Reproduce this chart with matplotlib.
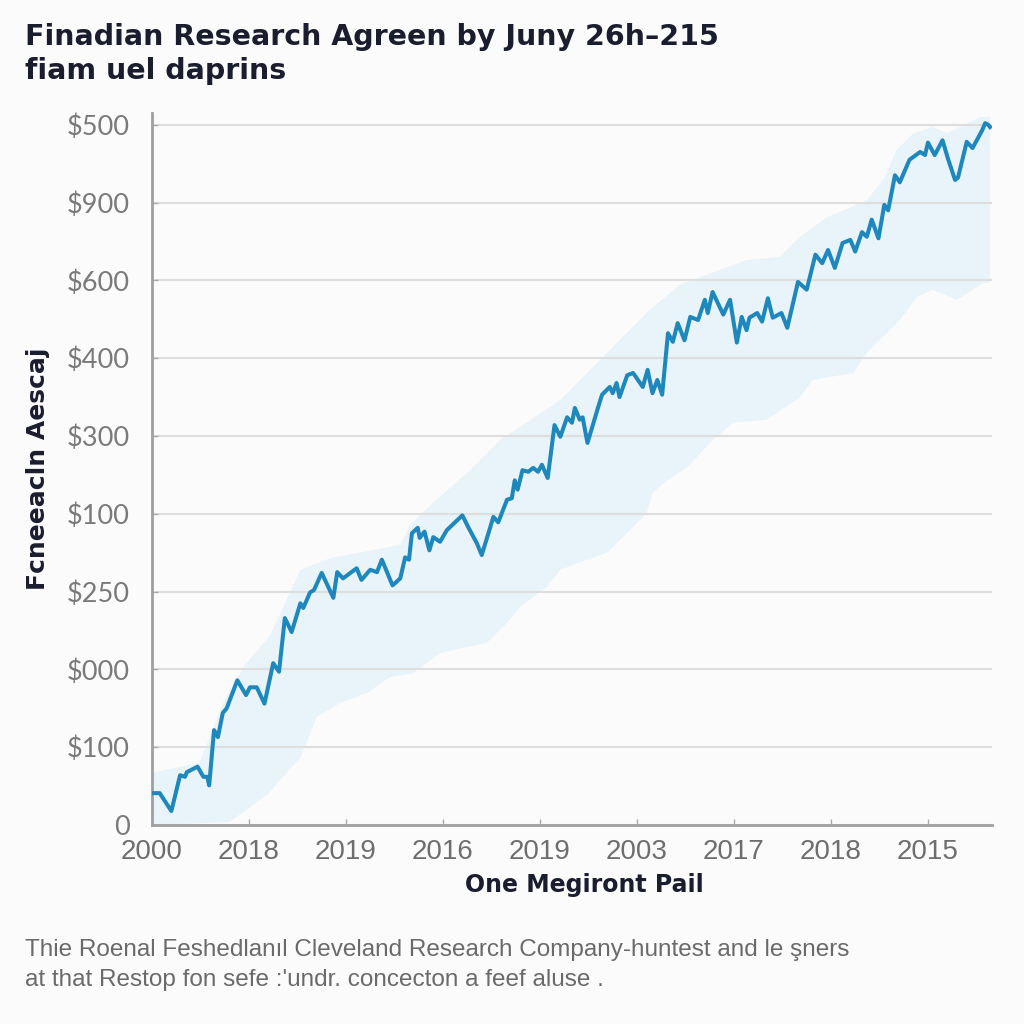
import numpy as np
import matplotlib
matplotlib.use('Agg')
import matplotlib.pyplot as plt

# values (x in tick units, y in gridline units)
line_x = [0.00, 0.08, 0.20, 0.29, 0.34, 0.36, 0.47, 0.53, 0.57, 0.59, 0.64, 0.68, 0.73, 0.77, 0.88,
          0.97, 1.01, 1.08, 1.16, 1.25, 1.31, 1.37, 1.44, 1.53, 1.56, 1.63, 1.67, 1.75, 1.87, 1.91,
          1.97, 2.11, 2.16, 2.25, 2.32, 2.37, 2.48, 2.56, 2.61, 2.65, 2.68, 2.74, 2.76, 2.81, 2.86,
          2.90, 2.97, 3.04, 3.20, 3.26, 3.35, 3.40, 3.52, 3.57, 3.66, 3.71, 3.74, 3.77, 3.82, 3.88,
          3.93, 3.98, 4.02, 4.08, 4.15, 4.21, 4.28, 4.33, 4.36, 4.41, 4.44, 4.49, 4.60, 4.64, 4.72,
          4.75, 4.79, 4.82, 4.90, 4.96, 5.06, 5.11, 5.16, 5.21, 5.26, 5.32, 5.37, 5.42, 5.49, 5.55,
          5.63, 5.70, 5.73, 5.78, 5.89, 5.96, 6.03, 6.08, 6.13, 6.16, 6.24, 6.29, 6.35, 6.40, 6.49,
          6.55, 6.66, 6.75, 6.84, 6.91, 6.97, 7.04, 7.12, 7.20, 7.25, 7.32, 7.37, 7.42, 7.49, 7.55,
          7.59, 7.66, 7.71, 7.81, 7.92, 7.97, 8.00, 8.07, 8.15, 8.21, 8.28, 8.31, 8.40, 8.46, 8.56,
          8.59, 8.62, 8.64]
line_y = [0.41, 0.41, 0.18, 0.64, 0.62, 0.68, 0.75, 0.62, 0.62, 0.51, 1.22, 1.13, 1.44, 1.50, 1.86,
          1.67, 1.77, 1.77, 1.56, 2.08, 1.97, 2.66, 2.48, 2.85, 2.79, 2.99, 3.02, 3.24, 2.92, 3.25,
          3.17, 3.30, 3.15, 3.28, 3.25, 3.41, 3.08, 3.17, 3.44, 3.41, 3.75, 3.82, 3.69, 3.77, 3.53,
          3.70, 3.64, 3.79, 3.98, 3.83, 3.62, 3.47, 3.96, 3.89, 4.18, 4.20, 4.43, 4.31, 4.56, 4.54,
          4.59, 4.54, 4.63, 4.46, 5.14, 4.99, 5.24, 5.17, 5.36, 5.21, 5.24, 4.91, 5.37, 5.53, 5.63,
          5.55, 5.68, 5.50, 5.78, 5.81, 5.63, 5.85, 5.55, 5.72, 5.53, 6.32, 6.21, 6.45, 6.23, 6.53,
          6.49, 6.75, 6.58, 6.85, 6.56, 6.75, 6.20, 6.53, 6.36, 6.52, 6.58, 6.47, 6.77, 6.52, 6.58,
          6.39, 6.98, 6.88, 7.33, 7.22, 7.39, 7.16, 7.48, 7.52, 7.37, 7.62, 7.56, 7.78, 7.54, 7.97,
          7.90, 8.35, 8.26, 8.55, 8.65, 8.61, 8.77, 8.61, 8.80, 8.55, 8.29, 8.32, 8.78, 8.70, 8.93,
          9.02, 9.00, 8.97]

band_up_x = [0.00, 0.49, 0.75, 0.96, 1.22, 1.53, 1.84, 2.56, 2.66, 2.87, 3.28, 3.59, 4.21, 4.82,
             5.13, 5.44, 5.78, 6.13, 6.47, 6.68, 6.96, 7.37, 7.54, 7.68, 7.85, 8.05, 8.20, 8.54, 8.64]
band_up_y = [0.67, 0.80, 1.61, 2.06, 2.44, 3.28, 3.43, 3.60, 3.86, 4.11, 4.56, 4.95, 5.46, 6.23,
             6.62, 6.94, 7.10, 7.26, 7.30, 7.56, 7.81, 8.03, 8.29, 8.68, 8.89, 8.97, 8.89, 9.10, 9.10]
band_lo_x = [0.00, 0.80, 1.19, 1.35, 1.53, 1.70, 1.94, 2.22, 2.45, 2.69, 2.97, 3.25, 3.45, 3.66,
             3.79, 4.07, 4.21, 4.48, 4.69, 4.96, 5.10, 5.16, 5.31, 5.52, 5.78, 5.99, 6.34, 6.68,
             6.81, 7.23, 7.37, 7.71, 7.89, 8.05, 8.30, 8.57, 8.64]
band_lo_y = [0.00, 0.04, 0.39, 0.62, 0.87, 1.39, 1.57, 1.70, 1.90, 1.95, 2.21, 2.29, 2.34, 2.60,
             2.80, 3.06, 3.28, 3.41, 3.50, 3.83, 4.01, 4.27, 4.43, 4.60, 4.95, 5.17, 5.21, 5.50,
             5.72, 5.81, 6.07, 6.49, 6.79, 6.88, 6.75, 6.97, 6.97]

x_labels = ['2000', '2018', '2019', '2016', '2019', '2003', '2017', '2018', '2015']
y_labels = ['0', '$100', '$000', '$250', '$100', '$300', '$400', '$600', '$900', '$500']

title = 'Finadian Research Agreen by Juny 26h\u2013215\nfiam uel daprins'
xlabel = 'One Megiront Pail'
ylabel = 'Fcneeacln Aescaj'
footer = ('Thie Roenal Feshedlanıl Cleveland Research Company-huntest and le şners\n'
          'at that Restop fon sefe :\'undr. concecton a feef aluse .')

bg = '#fbfbfc'
fig = plt.figure(figsize=(10.24, 10.24), dpi=100, facecolor=bg)
ax = fig.add_axes([0.1484, 0.1943, 0.8203, 0.6953])
ax.set_facecolor(bg)

band_x = band_up_x + band_lo_x[::-1]
band_y = band_up_y + band_lo_y[::-1]
ax.fill(band_x, band_y, color='#e8f3fa', lw=0, zorder=1)
ax.plot(line_x, line_y, color='#1e88bd', lw=2.9, zorder=3, solid_joinstyle='round')

ax.set_xlim(0, 8.66)
ax.set_ylim(0, 9.15)
ax.set_xticks(range(len(x_labels)))
ax.set_xticklabels(x_labels, family='Liberation Sans', fontsize=20, color='#6e6e6e')
ax.set_yticks(range(len(y_labels)))
ax.set_yticklabels(y_labels, family='Lato', fontsize=19.5, color='#7a7a7a')
ax.tick_params(axis='both', direction='in', length=4, width=1, color='#aaaaaa')
ax.tick_params(axis='x', pad=10)
ax.tick_params(axis='y', pad=16)

ax.grid(axis='y', color='#dedede', lw=1.5, zorder=0)
for s in ['top', 'right']:
    ax.spines[s].set_visible(False)
for s in ['left', 'bottom']:
    ax.spines[s].set_color('#a0a0a0')
    ax.spines[s].set_linewidth(2)

ax.set_xlabel(xlabel, fontsize=17, fontweight='bold', color='#1a1d2e')
ax.xaxis.set_label_coords(0.515, -0.068)
ax.set_ylabel(ylabel, fontsize=18, fontweight='bold', color='#1a1d2e')
ax.yaxis.set_label_coords(-0.121, 0.5)

fig.text(0.024, 0.978, title, ha='left', va='top', fontsize=20.5, fontweight='bold',
         color='#1a1d2e', linespacing=1.3)
fig.text(0.024, 0.083, footer, ha='left', va='top', fontsize=17.5,
         family='Liberation Sans', color='#6a6a6a', linespacing=1.45)

fig.savefig('out.png', dpi=100, facecolor=fig.get_facecolor())
